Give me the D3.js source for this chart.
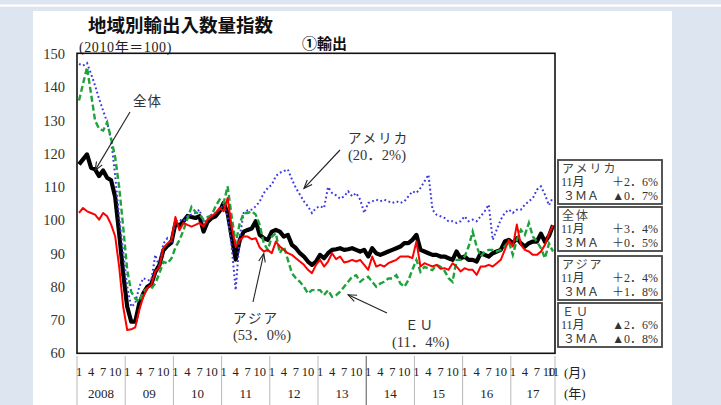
<!DOCTYPE html>
<html><head><meta charset="utf-8">
<script src="https://cdn.jsdelivr.net/npm/d3@7"></script>
<style>
body{margin:0;background:#dce5f0;}
svg{display:block;}
text{font-family:'Liberation Serif','Noto Sans CJK JP',serif;}
</style></head><body>
<svg id="c" width="721" height="405"></svg>
<script>
// ---- data (monthly, Jan 2008 – Nov 2017) ----
const years = ["2008","09","10","11","12","13","14","15","16","17"];
const monthTicks = [1,4,7,10];
const yTicks = [60,70,80,90,100,110,120,130,140,150];

const total = [
116.8,118.3,119.8,115.8,115.3,113.3,115.0,112.8,112.0,107.0,96.0,84.0,
74.0,69.5,69.5,75.0,78.0,80.0,80.8,84.5,86.5,91.0,92.3,93.3,
99.0,98.4,99.7,101.3,101.0,100.7,101.2,96.6,99.5,100.7,101.2,102.7,
105.2,102.2,95.1,88.2,94.0,96.6,97.1,97.5,99.7,95.6,94.6,94.1,
96.6,97.1,96.6,95.1,95.6,92.6,91.6,90.1,89.1,87.6,86.6,87.6,
89.6,88.6,90.1,91.1,91.3,91.6,91.1,91.3,91.6,91.1,90.6,91.1,
89.1,91.6,90.1,89.6,90.1,90.6,91.1,91.6,92.1,93.1,93.1,94.1,
95.6,91.1,90.6,90.1,89.6,89.6,89.1,89.1,88.6,88.1,90.6,88.6,
89.1,88.1,88.1,87.6,90.1,89.6,89.1,90.1,90.6,91.1,93.6,94.1,
93.1,94.6,93.1,92.1,93.1,93.6,93.6,96.0,93.5,95.3,98.5];

const asia = [
102.2,103.7,102.7,102.2,101.7,100.2,102.2,101.2,98.7,95.2,86.0,74.0,
67.0,67.2,67.8,73.0,77.0,79.6,80.6,84.6,86.0,91.6,93.0,94.0,
101.0,97.0,99.2,98.6,98.1,98.6,99.2,98.1,100.2,101.2,102.2,103.7,
102.7,106.7,98.1,92.1,94.0,95.1,95.1,94.3,94.6,91.8,90.6,91.1,
90.1,93.6,92.1,91.1,90.1,89.6,88.6,87.6,86.6,85.1,84.1,86.6,
88.1,86.1,87.6,90.1,88.3,89.1,87.3,87.6,88.1,87.6,88.1,86.6,
85.1,89.1,86.1,86.6,86.1,87.1,87.6,88.1,89.1,89.1,89.1,88.6,
93.6,86.1,87.1,86.6,86.1,86.6,85.4,85.6,85.1,87.1,86.1,84.6,
85.6,85.1,85.1,83.6,86.1,86.1,86.6,86.1,87.1,88.1,91.1,94.1,
92.1,98.7,92.6,91.1,90.6,89.6,89.6,90.6,92.6,96.0,98.5];

const america = [
147.0,146.5,147.3,144.0,140.5,136.5,133.0,129.5,124.0,113.5,101.0,90.5,
80.0,74.0,75.0,80.0,82.6,82.0,82.0,89.6,86.0,93.0,94.6,93.1,
99.7,100.2,99.7,101.2,101.7,102.2,103.2,99.2,100.7,101.7,102.2,103.2,
104.7,101.2,92.1,79.0,95.0,102.2,103.0,103.2,104.2,105.7,108.2,109.7,
110.7,113.3,114.3,114.8,115.3,112.3,109.7,107.7,105.7,104.2,102.2,103.7,
104.2,103.7,110.0,108.2,107.5,106.5,107.2,108.7,107.2,108.2,106.2,102.2,
105.2,105.7,106.2,105.7,106.2,105.7,105.2,105.7,105.2,105.7,107.2,108.7,
108.2,109.7,111.7,113.7,103.2,101.7,101.2,100.7,99.7,99.7,99.2,99.7,
101.2,99.7,100.2,99.7,101.2,102.7,104.7,94.1,97.2,100.2,102.2,103.2,
102.2,103.2,103.2,104.7,105.7,106.7,109.2,110.2,107.7,104.5,107.0];

const eu = [
136.0,141.0,146.0,138.0,130.0,127.5,127.0,129.4,124.5,119.0,110.0,98.0,
85.0,78.5,76.5,75.5,78.5,79.6,79.5,81.0,84.0,87.5,87.0,88.5,
91.8,94.0,97.0,100.5,104.0,102.5,101.7,100.2,101.0,101.5,104.2,106.2,
105.2,110.2,101.2,93.1,99.0,102.2,102.2,102.7,101.7,98.6,93.1,91.1,
95.1,96.1,90.1,92.1,88.1,84.1,82.6,81.5,80.0,78.0,79.0,79.0,
79.0,77.5,79.0,77.0,77.5,78.5,80.0,81.5,83.0,83.5,81.5,82.5,
83.0,81.5,80.0,81.0,81.5,82.5,82.5,83.5,81.0,80.0,82.0,85.1,
88.1,84.5,86.0,85.5,85.0,86.6,86.0,84.8,82.6,81.5,88.1,88.1,
89.1,92.1,96.6,92.1,89.1,90.6,91.1,91.1,90.6,91.1,92.1,93.6,
89.6,94.1,97.1,95.6,99.2,95.1,93.6,91.6,88.6,93.0,90.6];

const legendNames = ["アメリカ","全体","アジア","ＥＵ"];
const legendMonth = ["＋2．6%","＋3．4%","＋2．4%","▲2．6%"];
const legendMA = ["▲0．7%","＋0．5%","＋1．8%","▲0．8%"];

// ---- layout ----
const W = 721, H = 405;
const svg = d3.select("#c");
svg.append("rect").attr("width",W).attr("height",H).attr("fill","#dce5f0");
svg.append("rect").attr("x",0).attr("y",4.5).attr("width",W).attr("height",2.2).attr("fill","#ffffff");
svg.append("rect").attr("x",33).attr("y",11).attr("width",639).attr("height",H-11).attr("fill","#ffffff");

const n = total.length;
const x = d3.scaleLinear().domain([0,n]).range([77,555]);
const y = d3.scaleLinear().domain([60,150]).range([353.3,54]);

// title
svg.append("text").attr("x",88).attr("y",32).attr("font-size",18.5).attr("font-weight","bold")
  .style("font-family","'Noto Sans CJK JP'").attr("fill","#111").text("地域別輸出入数量指数");
svg.append("text").attr("x",79).attr("y",51.5).attr("font-size",14).attr("letter-spacing",0.6)
  .attr("fill","#222").text("(2010年＝100)");
svg.append("text").attr("x",302).attr("y",49).attr("font-size",15).attr("font-weight","bold")
  .style("font-family","'Noto Sans CJK JP'").attr("fill","#111").text("①輸出");

// y axis labels
const yAxis = d3.axisLeft(y).tickValues(yTicks).tickSize(0).tickPadding(12);
const gy = svg.append("g").attr("transform","translate(77,0)").call(yAxis);
gy.select(".domain").remove();
gy.selectAll("text").attr("font-size",14.5).attr("fill","#333")
  .style("font-family","'Liberation Serif',serif");

// series lines
const line = d3.line().x((d,i)=>x(i+0.5)).y(d=>y(d));
const g = svg.append("g");
g.append("path").datum(total).attr("d",line).attr("fill","none").attr("stroke","#000")
  .attr("stroke-width",4.2).attr("stroke-linejoin","round");
g.append("path").datum(america).attr("d",line).attr("fill","none").attr("stroke","#3a3ae0")
  .attr("stroke-width",2).attr("stroke-dasharray","1.8,2.6");
g.append("path").datum(eu).attr("d",line).attr("fill","none").attr("stroke","#1ea23c")
  .attr("stroke-width",2.4).attr("stroke-dasharray","6,3");
g.append("path").datum(asia).attr("d",line).attr("fill","none").attr("stroke","#ff0000")
  .attr("stroke-width",2).attr("stroke-linejoin","round");

// frame
svg.append("rect").attr("x",x(0)).attr("y",53.3).attr("width",x(n)-x(0)).attr("height",y(60)-53.3)
  .attr("fill","none").attr("stroke","#111").attr("stroke-width",1.6);

// x axis table
const sep = svg.append("g");
for (let k=0;k<=years.length;k++){
  const m = Math.min(k*12,n);
  sep.append("line").attr("x1",x(m)).attr("x2",x(m)).attr("y1",356).attr("y2",H)
    .attr("stroke", k===6 ? "#555" : "#b8b8b8").attr("stroke-width",1);
}
years.forEach((yr,k)=>{
  const a = k*12, b = Math.min(k*12+12,n);
  svg.append("text").attr("x",(x(a)+x(b))/2).attr("y",398).attr("text-anchor","middle")
    .attr("font-size",13).attr("fill","#222").text(yr);
  monthTicks.forEach(mt=>{
    const idx = a+mt-1;
    if (idx<n) svg.append("text").attr("x",x(idx+0.5)).attr("y",376).attr("text-anchor","middle")
      .attr("font-size",12.5).attr("fill","#222").text(mt);
  });
});
svg.append("text").attr("x",x(n-0.5)).attr("y",376).attr("text-anchor","middle")
  .attr("font-size",12.5).attr("fill","#222").text("11");
svg.append("text").attr("x",564).attr("y",377).attr("font-size",13).attr("fill","#222").text("(月)");
svg.append("text").attr("x",564).attr("y",398).attr("font-size",13).attr("fill","#222").text("(年)");

// annotations
function arrow(x1,y1,x2,y2){
  const a = Math.atan2(y2-y1,x2-x1), L=9, s=0.38;
  svg.append("line").attr("x1",x1).attr("y1",y1).attr("x2",x2).attr("y2",y2)
    .attr("stroke","#222").attr("stroke-width",1.1);
  const p = `M${x2-L*Math.cos(a-s)},${y2-L*Math.sin(a-s)}L${x2},${y2}L${x2-L*Math.cos(a+s)},${y2-L*Math.sin(a+s)}`;
  svg.append("path").attr("d",p).attr("fill","none").attr("stroke","#222").attr("stroke-width",1.1);
}
function label(tx,ty,str,ls,fs){
  svg.append("text").attr("x",tx).attr("y",ty).attr("font-size",fs||13.5).attr("fill","#333")
    .attr("letter-spacing",ls||0).text(str);
}
label(133,106,"全体",1);
arrow(130,112,x(4.5),y(total[4])+1);
label(348,143,"アメリカ",2);
label(348,160,"(20．2%)",0,14.5);
arrow(340,150,x(56.5),y(america[56])-13);
label(233,323,"アジア",2);
label(233,340,"(53．0%)",0,14.5);
arrow(253,302,x(46.5),y(asia[46])+2);
label(405,330,"ＥＵ",1);
label(392,347,"(11．4%)",0,14.5);
arrow(387,313,x(67.5),y(eu[67])+13);

// legend boxes
const boxTop = [160,207,256,303];
legendNames.forEach((nm,i)=>{
  const t = boxTop[i];
  svg.append("rect").attr("x",558).attr("y",t).attr("width",104).attr("height",44)
    .attr("fill","#fff").attr("stroke","#444").attr("stroke-width",1.8);
  svg.append("text").attr("x",562).attr("y",t+12.5).attr("font-size",12).attr("fill","#444")
    .attr("letter-spacing",2).text(nm);
  svg.append("text").attr("x",561).attr("y",t+26).attr("font-size",12).attr("fill","#333").text("11月");
  svg.append("text").attr("x",658).attr("y",t+26).attr("font-size",12).attr("fill","#333")
    .attr("text-anchor","end").text(legendMonth[i]);
  svg.append("text").attr("x",563).attr("y",t+39.5).attr("font-size",12).attr("fill","#333").text("３ＭＡ");
  svg.append("text").attr("x",658).attr("y",t+39.5).attr("font-size",12).attr("fill","#333")
    .attr("text-anchor","end").text(legendMA[i]);
});
</script>
</body></html>
